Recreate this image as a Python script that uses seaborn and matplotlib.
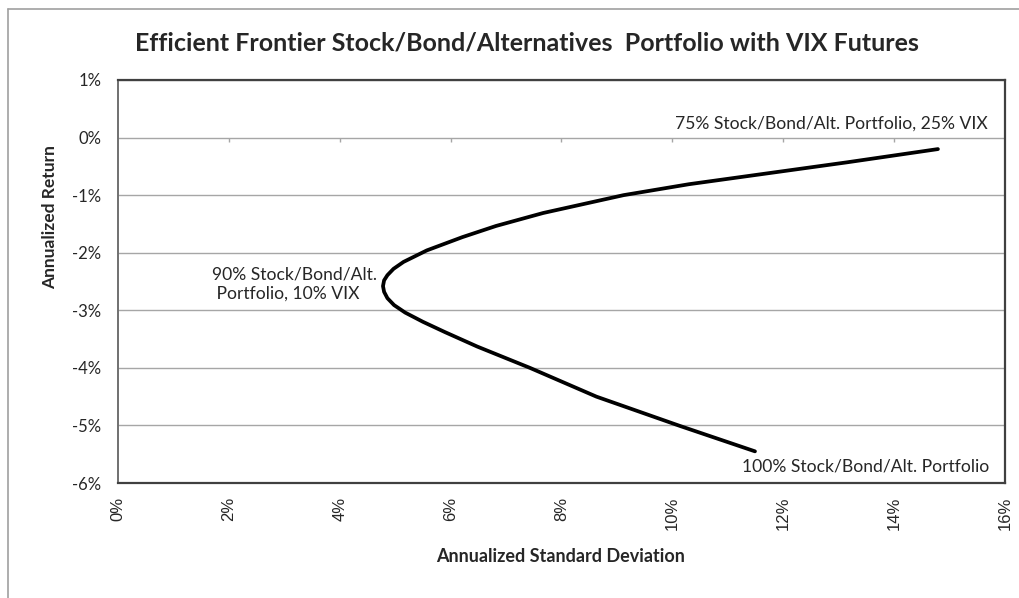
import numpy as np
import pandas as pd
import matplotlib
matplotlib.use("Agg")
import matplotlib.pyplot as plt
import seaborn as sns
from matplotlib.lines import Line2D
from matplotlib.ticker import FuncFormatter

# points along the frontier, from 100% portfolio end to 25% VIX end (in %)
std_dev = [11.49, 10.14, 8.63, 7.43, 6.48, 5.90, 5.50, 5.18, 4.98, 4.86, 4.80,
           4.78, 4.80, 4.86, 4.97, 5.15, 5.57, 6.21, 6.82, 7.67, 9.12, 10.30,
           11.95, 13.15, 14.79]
ann_ret = [-5.45, -5.01, -4.50, -4.00, -3.63, -3.38, -3.20, -3.04, -2.91, -2.79, -2.68,
           -2.58, -2.48, -2.39, -2.28, -2.16, -1.96, -1.73, -1.535, -1.31, -1.00, -0.81,
           -0.59, -0.43, -0.20]

x_ticks = [0, 2, 4, 6, 8, 10, 12, 14, 16]
y_ticks = [1, 0, -1, -2, -3, -4, -5, -6]

df = pd.DataFrame({"sd": std_dev, "ret": ann_ret})

sns.set_style("white")
plt.rcParams["font.family"] = ["Lato", "DejaVu Sans"]

fig = plt.figure(figsize=(10.2, 5.98), dpi=100)
ax = fig.add_axes([118 / 1020, 1 - 483 / 598, 887 / 1020, 403 / 598])

for y in y_ticks:
    ax.axhline(y, color="#a6a6a6", lw=1.0, zorder=1)
ax.vlines(x_ticks[1:-1], -0.08, 0, color="#a6a6a6", lw=1.0, zorder=1)

sns.lineplot(data=df, x="sd", y="ret", sort=False, estimator=None,
             color="black", lw=2.7, ax=ax, zorder=3,
             solid_joinstyle="round", solid_capstyle="round")

ax.set_xlim(0, 16)
ax.set_ylim(-6, 1)
ax.set_xticks(x_ticks)
ax.set_yticks(y_ticks)
ax.xaxis.set_major_formatter(FuncFormatter(lambda v, p: f"{v:.0f}%"))
ax.yaxis.set_major_formatter(FuncFormatter(lambda v, p: f"{v:.0f}%"))
ax.tick_params(axis="x", length=0, pad=10, labelsize=12, labelrotation=90)
ax.tick_params(axis="y", length=5, width=1, color="#808080", pad=7, labelsize=12)
for lbl in ax.get_xticklabels():
    lbl.set_family("Liberation Sans")
ax.set_xlabel("")
ax.set_ylabel("")

for side in ["top", "right", "bottom"]:
    ax.spines[side].set_color("#404040")
    ax.spines[side].set_linewidth(1.6)
ax.spines["left"].set_color("#707070")
ax.spines["left"].set_linewidth(1.4)

ax.text(15.69, 0.25, "75% Stock/Bond/Alt. Portfolio, 25% VIX",
        ha="right", va="center", fontsize=12.6)
ax.text(1.69, -2.55, "90% Stock/Bond/Alt.\n Portfolio, 10% VIX",
        ha="left", va="center", fontsize=12.6, linespacing=1.25)
ax.text(11.26, -5.72, "100% Stock/Bond/Alt. Portfolio",
        ha="left", va="center", fontsize=12.6)

fig.text(527 / 1020, 1 - 43 / 598,
         "Efficient Frontier Stock/Bond/Alternatives  Portfolio with VIX Futures",
         ha="center", va="center", fontsize=18, fontweight="bold")
fig.text(561 / 1020, 1 - 557 / 598, "Annualized Standard Deviation",
         ha="center", va="center", fontsize=13, fontweight="bold")
fig.text(50 / 1020, 1 - 217 / 598, "Annualized Return", rotation=90,
         ha="center", va="center", fontsize=12.5, fontweight="bold")

# outer chart border
fig.add_artist(Line2D([8.5 / 1020, 8.5 / 1020], [0, 1 - 8.5 / 598],
                      transform=fig.transFigure, color="#a0a0a0", lw=1.2))
fig.add_artist(Line2D([8.5 / 1020, 1], [1 - 8.5 / 598, 1 - 8.5 / 598],
                      transform=fig.transFigure, color="#a0a0a0", lw=1.2))

fig.savefig("out.png", dpi=100)
